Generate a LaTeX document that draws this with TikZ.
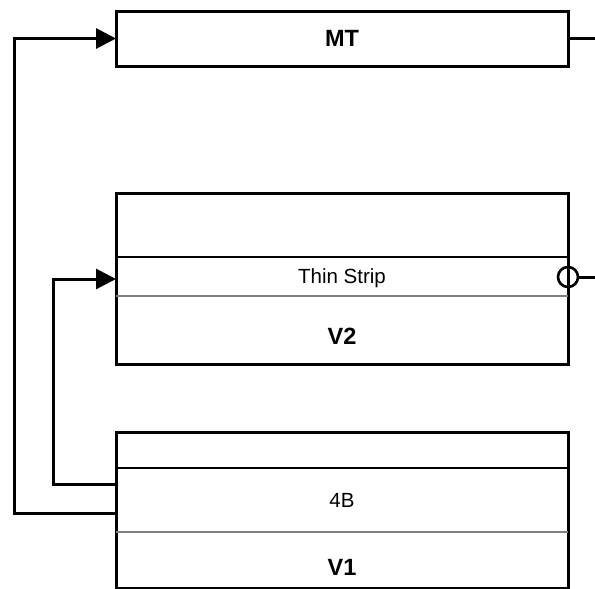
\documentclass[tikz,border=0pt]{standalone}
\usepackage{fontspec}
\setmainfont{Liberation Sans}
\usetikzlibrary{arrows.meta}
\begin{document}
\begin{tikzpicture}[x=1pt,y=-1pt,
  frame/.style={draw, line width=3pt, minimum width=452pt, inner sep=0pt, outer sep=0pt},
  stripbox/.style={minimum width=452pt, inner sep=0pt, outer sep=0pt},
  bigtext/.style={font=\bfseries\fontsize{23.5}{27}\selectfont, inner sep=0pt},
  smalltext/.style={font=\fontsize{20.5}{24}\selectfont, inner sep=0pt, anchor=base},
  wire/.style={line width=3pt},
  arr/.style={wire, -{Triangle[length=20pt,width=20pt]}}]
\useasboundingbox (0,0) rectangle (595,589);
% MT
\node[frame, minimum height=55pt, bigtext] (mt) at (342,38.5) {MT};
\coordinate (mtout) at (595,38.5);
\draw[wire] (mt.east) -- (mtout);
% V2
\node[frame, minimum height=171pt] (v2) at (342,278.5) {};
\node[stripbox, minimum height=39pt] (v2s) at (342,276.5) {};
\draw[line width=1.2pt] (v2s.north west) -- (v2s.north east);
\draw[line width=1.2pt, gray] (v2s.south west) -- (v2s.south east);
\node[smalltext] (thin) at (342,283) {Thin Strip};
\node[bigtext, anchor=base] (v2l) at (342,344) {V2};
\node[circle, draw, line width=2.6pt, minimum size=20pt, inner sep=0pt] (ring) at (568,277) {};
\coordinate (v2out) at (595,277);
\draw[wire] (ring.east) -- (v2out);
% V1
\node[frame, minimum height=156pt] (v1) at (342,510) {};
\node[stripbox, minimum height=64pt] (v1s) at (342,500) {};
\draw[line width=1.2pt] (v1s.north west) -- (v1s.north east);
\draw[line width=1.6pt, gray] (v1s.south west) -- (v1s.south east);
\node[smalltext] (fourb) at (342,507) {4B};
\node[bigtext, anchor=base] (v1l) at (342,575) {V1};
% connectors
\coordinate (p1) at (116,513);
\coordinate (p2) at (116,484);
\coordinate (v2in) at (116,279);
\draw[arr] (p1) -- ++(-102,0) |- (mt.west);
\draw[arr] (p2) -- ++(-63,0) |- (v2in);
\end{tikzpicture}
\end{document}
